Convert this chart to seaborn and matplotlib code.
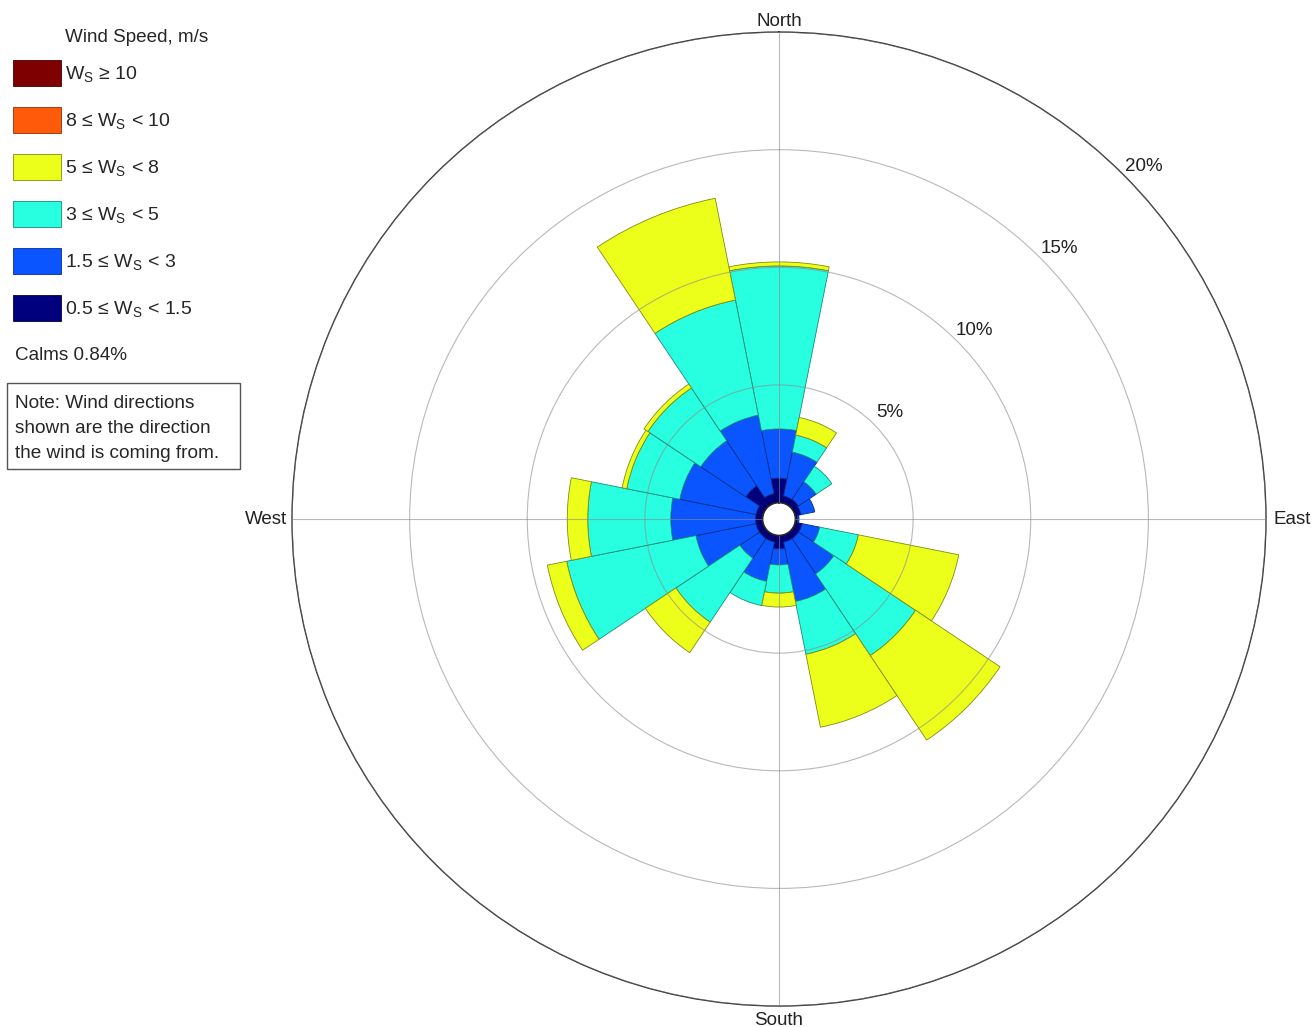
import numpy as np
import pandas as pd
import matplotlib
matplotlib.use("Agg")
import matplotlib.pyplot as plt
import seaborn as sns
from matplotlib.patches import Patch, Rectangle
from matplotlib.colors import to_rgb


# --- Data (frequency in %, per speed bin, per direction) ---
directions = ["N", "NNE", "NE", "ENE", "E", "ESE", "SE", "SSE",
              "S", "SSW", "SW", "WSW", "W", "WNW", "NW", "NNW"]
ws_05_15 = [1.04, 0.30, 0.30, 0.25, 0.10, 0.30, 0.30, 0.30,
            0.57, 0.30, 0.30, 0.30, 0.30, 0.30, 1.00, 0.40]
ws_15_3 = [2.09, 1.90, 0.90, 0.60, 0.05, 0.76, 1.80, 2.57,
           0.68, 1.70, 1.00, 2.60, 3.60, 3.30, 2.30, 3.40]
ws_3_5 = [6.93, 0.74, 0.80, 0.00, 0.00, 1.68, 4.18, 2.29,
          1.20, 1.05, 3.27, 5.60, 3.53, 2.30, 2.70, 4.99]
ws_5_8 = [0.17, 0.76, 0.00, 0.00, 0.00, 4.35, 4.32, 3.16,
          0.59, 0.00, 1.56, 0.84, 0.87, 0.20, 0.20, 4.41]
ws_8_10 = [0.0] * 16
ws_10_up = [0.0] * 16

bin_labels = [
    r"0.5 ≤ W$_\mathrm{S}$ < 1.5",
    r"1.5 ≤ W$_\mathrm{S}$ < 3",
    r"3 ≤ W$_\mathrm{S}$ < 5",
    r"5 ≤ W$_\mathrm{S}$ < 8",
    r"8 ≤ W$_\mathrm{S}$ < 10",
    r"W$_\mathrm{S}$ ≥ 10",
]
bin_colors = ["#00007f", "#0a55ff", "#28ffe0", "#ecff1a", "#ff5a0a", "#7f0000"]
ring_values = [5, 10, 15, 20]
compass_labels = ["North", "East", "South", "West"]
calms = 0.84

df = pd.DataFrame({
    "direction": directions,
    bin_labels[0]: ws_05_15,
    bin_labels[1]: ws_15_3,
    bin_labels[2]: ws_3_5,
    bin_labels[3]: ws_5_8,
    bin_labels[4]: ws_8_10,
    bin_labels[5]: ws_10_up,
})
df["theta"] = np.deg2rad(np.arange(len(directions)) * 360 / len(directions))


def darker(c, f=0.55):
    return tuple(x * f for x in to_rgb(c))


# --- Plot styling ---
sns.set_theme(style="white")
plt.rcParams["font.family"] = ["Liberation Sans", "DejaVu Sans"]
plt.rcParams["mathtext.fontset"] = "custom"
plt.rcParams["mathtext.rm"] = "Liberation Sans"

W, H = 1313, 1027
fig = plt.figure(figsize=(W / 100, H / 100), dpi=100)
ax = fig.add_axes([0.2224, 0.0204, 0.7418, 0.9484], projection="polar")
ax.set_theta_zero_location("N")
ax.set_theta_direction(-1)


# --- Plot data (stacked petals) ---
width = 2 * np.pi / len(directions)
bottom = np.zeros(len(directions))
for label, color in zip(bin_labels, bin_colors):
    vals = df[label].to_numpy()
    keep = vals > 0
    if keep.any():
        ax.bar(df["theta"][keep], vals[keep], width=width, bottom=bottom[keep],
               color=color, edgecolor=darker(color), linewidth=0.6, zorder=1)
    bottom = bottom + vals


# --- Axes configuration ---
ax.set_rorigin(-0.7)
ax.set_ylim(0, 20)
ax.set_rticks(ring_values)
ax.set_yticklabels([])
ax.set_thetagrids([0, 90, 180, 270], [""] * 4)
ax.set_axisbelow(False)
ax.grid(True, color="#8a8a8a", linewidth=0.8, alpha=0.6)
ax.spines["polar"].set_color("#333333")
ax.spines["polar"].set_linewidth(1.0)

# compass labels just outside the outer ring
align = [("center", "baseline", 20.25), ("left", "center", 20.3),
         ("center", "top", 20.25), ("right", "center", 20.2)]
for deg, name, (ha, va, r) in zip([0, 90, 180, 270], compass_labels, align):
    ax.text(np.deg2rad(deg), r, name, fontsize=13.5, ha=ha, va=va,
            color="#222222", clip_on=False)

for v in ring_values:
    ax.text(np.deg2rad(46.0), v + 0.85, f"{v}%", fontsize=13.5,
            ha="center", va="center", color="#222222")


# --- Legend ---
handles = [Patch(facecolor=c, edgecolor=darker(c), linewidth=0.6)
           for c in bin_colors[::-1]]
fig.legend(handles, bin_labels[::-1], loc="upper left",
           bbox_to_anchor=(13 / W, 1 - 60 / H), frameon=False, fontsize=14,
           handlelength=2.47, handleheight=1.685, labelspacing=1.08,
           handletextpad=0.2, borderpad=0, borderaxespad=0)
fig.text(137 / W, 1 - 38 / H, "Wind Speed, m/s", fontsize=13.6,
         ha="center", va="center")

fig.text(15 / W, 1 - 356 / H, f"Calms {calms}%", fontsize=13.6, va="center")
fig.patches.append(Rectangle((7 / W, 1 - 469 / H), 233 / W, 86 / H,
                             transform=fig.transFigure, fill=False,
                             edgecolor="#555555", linewidth=1))
fig.text(15 / W, 1 - 395 / H,
         "Note: Wind directions\nshown are the direction\nthe wind is coming from.",
         fontsize=13.7, va="top", ha="left", linespacing=1.62)


# --- Render ---
fig.savefig("out.png", dpi=100)
